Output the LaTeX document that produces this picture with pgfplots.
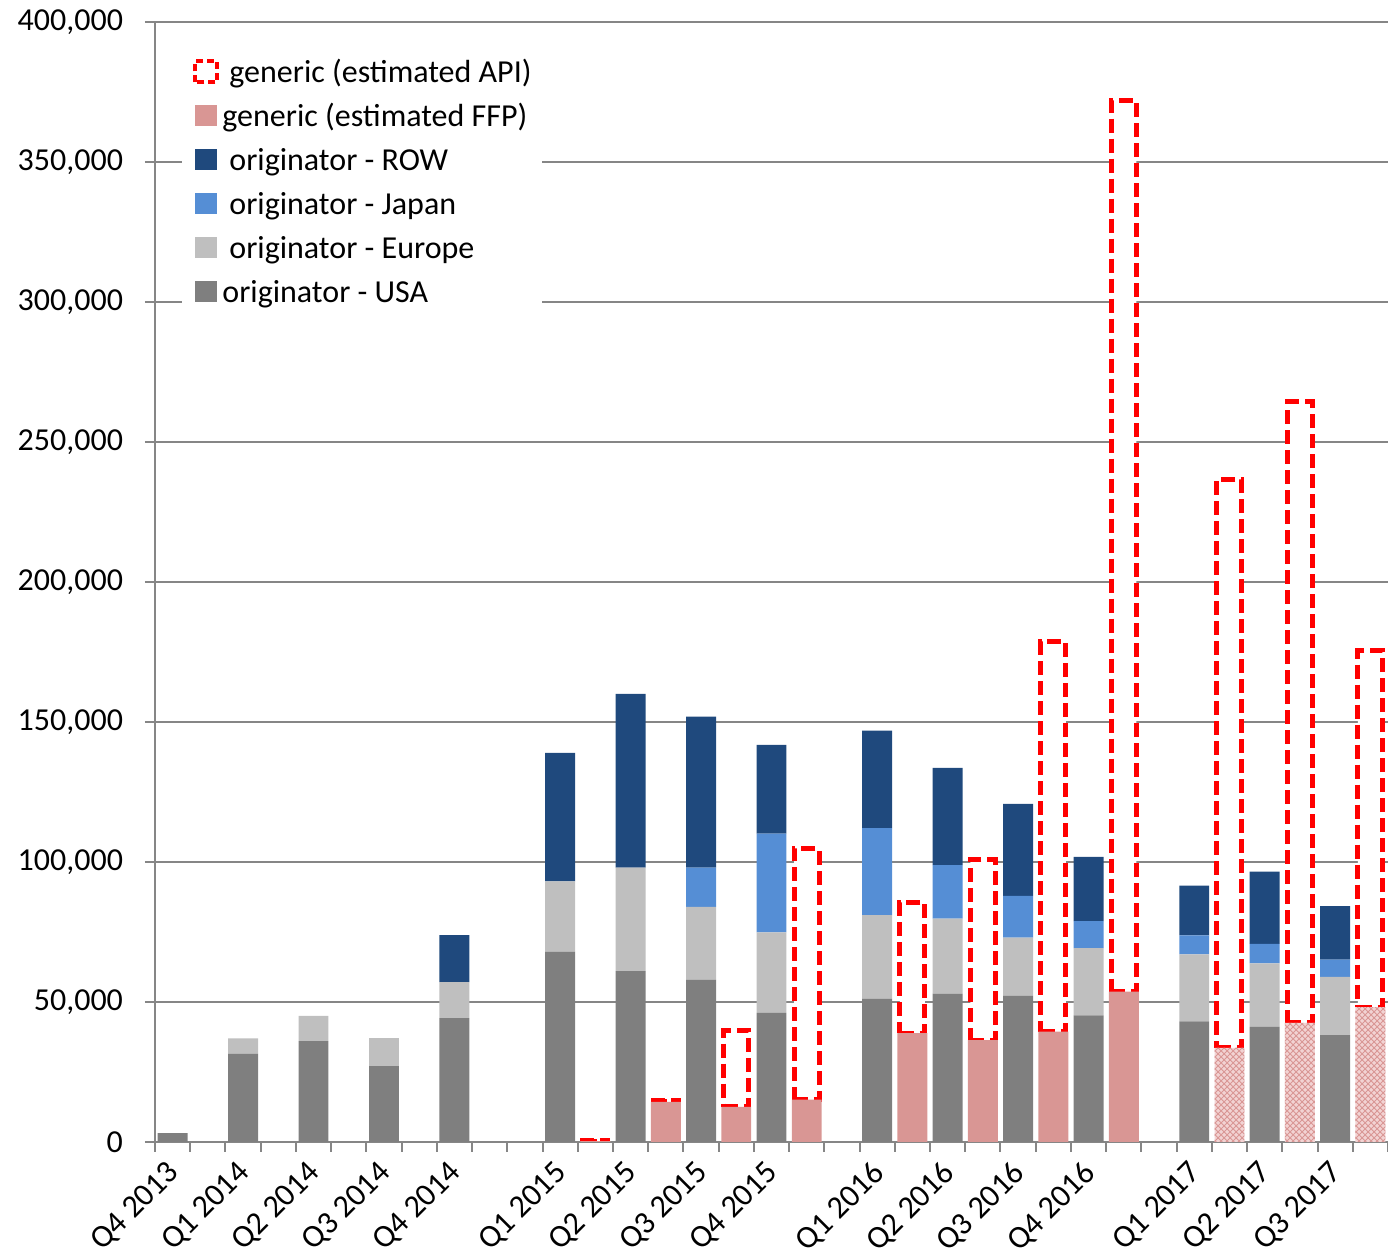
\documentclass[border=0pt]{standalone}
\usepackage{fontspec}
\setmainfont{Carlito}
\usepackage{pgfplots}
\usepackage{pgfplotstable}
\pgfplotsset{compat=1.18}
\usetikzlibrary{patterns}

\definecolor{usa}{HTML}{7F7F7F}
\definecolor{eur}{HTML}{BFBFBF}
\definecolor{jpn}{HTML}{558ED5}
\definecolor{row}{HTML}{1F497D}
\definecolor{ffp}{HTML}{D99694}
\definecolor{ffplight}{HTML}{F2D3D3}
\definecolor{axisgray}{HTML}{868686}

% originator sales (stacked increments), slot positions on the x axis
\pgfplotstableread{
x   usa    eur    jpn    row
0   3200   0      0      0
2   31500  5500   0      0
4   36000  9000   0      0
6   27100  10000  0      0
8   44200  12900  0      16800
11  68000  25100  0      45900
13  61000  37000  0      62000
15  58000  26000  14000  53900
17  46100  28800  35200  31700
20  51200  29800  31100  34800
22  53000  26800  19100  34700
24  52200  20800  14900  32900
26  45200  24000  9700   22900
29  43100  23900  6800   17800
31  41100  22700  7000   25800
33  38200  20800  6100   19100
}\origtable

% generic estimates: FFP (solid), FFP (hatched), API on top
\pgfplotstableread{
x   ffp    ffph   api
12  300    0      400
14  14300  0      500
16  12500  0      27400
18  15100  0      89700
21  38900  0      46600
23  36400  0      64600
25  39400  0      139400
27  53700  0      318400
30  0      33600  203000
32  0      42500  221900
34  0      48200  127200
}\gentable

\pgfplotsset{
  base/.style={
    at={(0,0)}, anchor=south west,
    scale only axis, width=616.5pt, height=560pt,
    xmin=-0.5, xmax=34.5, ymin=0, ymax=400000,
    ybar stacked, bar width=0.85,
  },
  swatch/.style={legend image code/.code={%
    \path[##1] (0pt,-2pt) rectangle (11pt,8.5pt);
    \path (16pt,0pt);}},
}

\begin{document}
\begin{tikzpicture}
\begin{axis}[base,
  axis x line*=bottom, axis y line*=left,
  axis line style={axisgray, line width=1pt},
  ymajorgrids, grid style={axisgray, line width=1pt},
  tick style={axisgray, line width=1pt},
  tick align=outside, major tick length=5pt, minor tick length=5pt,
  ytick={0,50000,...,400000},
  xtick={0,2,4,6,8,11,13,15,17,20,22,24,26,29,31,33},
  xticklabels={Q4 2013,Q1 2014,Q2 2014,Q3 2014,Q4 2014,Q1 2015,Q2 2015,Q3 2015,Q4 2015,Q1 2016,Q2 2016,Q3 2016,Q4 2016,Q1 2017,Q2 2017,Q3 2017},
  major x tick style={draw=none},
  minor xtick={-0.5,0.5,...,34.5},
  scaled y ticks=false,
  /pgf/number format/assume math mode=true,
  tick label style={font=\fontsize{16}{19}\selectfont, text=black},
  yticklabel style={xshift=-7.5pt, /pgf/number format/.cd, fixed, 1000 sep={,}},
  xticklabel style={xshift=-3.5pt, yshift=-2pt, rotate=45, anchor=north east, inner sep=1pt},
]
\addplot[fill=usa, draw=none] table[x=x, y=usa] {\origtable};
\addplot[fill=eur, draw=none] table[x=x, y=eur] {\origtable};
\addplot[fill=jpn, draw=none] table[x=x, y=jpn] {\origtable};
\addplot[fill=row, draw=none] table[x=x, y=row] {\origtable};
\end{axis}

\begin{axis}[base, hide axis,
  legend cell align=left,
  legend style={at={(0,1)}, anchor=north west, xshift=13.5pt, yshift=-17pt,
    draw=none, fill=white, inner xsep=5.5pt, inner ysep=0pt, row sep=0pt,
    font=\fontsize{16}{19}\selectfont,
    nodes={inner sep=0pt, text height=13pt, text depth=9pt}},
]
\addlegendimage{swatch, draw=red, fill=white, line width=2pt, dash pattern=on 3.5pt off 2pt}
\addlegendentry{generic (estimated API)}
\addlegendimage{swatch, fill=ffp, draw=none}
\addlegendentry{\hspace*{-3.5pt}generic (estimated FFP)}
\addlegendimage{swatch, fill=row, draw=none}
\addlegendentry{originator - ROW}
\addlegendimage{swatch, fill=jpn, draw=none}
\addlegendentry{originator - Japan}
\addlegendimage{swatch, fill=eur, draw=none}
\addlegendentry{originator - Europe}
\addlegendimage{swatch, fill=usa, draw=none}
\addlegendentry{\hspace*{-3.5pt}originator - USA}

\addplot[fill=ffp, draw=none] table[x=x, y=ffp] {\gentable};
\addplot[fill=ffplight, draw=none, postaction={pattern=crosshatch, pattern color=ffp}] table[x=x, y=ffph] {\gentable};
\addplot[fill=white, draw=red, line width=2.5pt, dash pattern=on 7pt off 3pt, bar width=0.71] table[x=x, y=api] {\gentable};
\end{axis}
\pgfresetboundingbox
\path[use as bounding box] (-77.5pt,-55pt) rectangle (616.5pt,571pt);
\end{tikzpicture}
\end{document}
